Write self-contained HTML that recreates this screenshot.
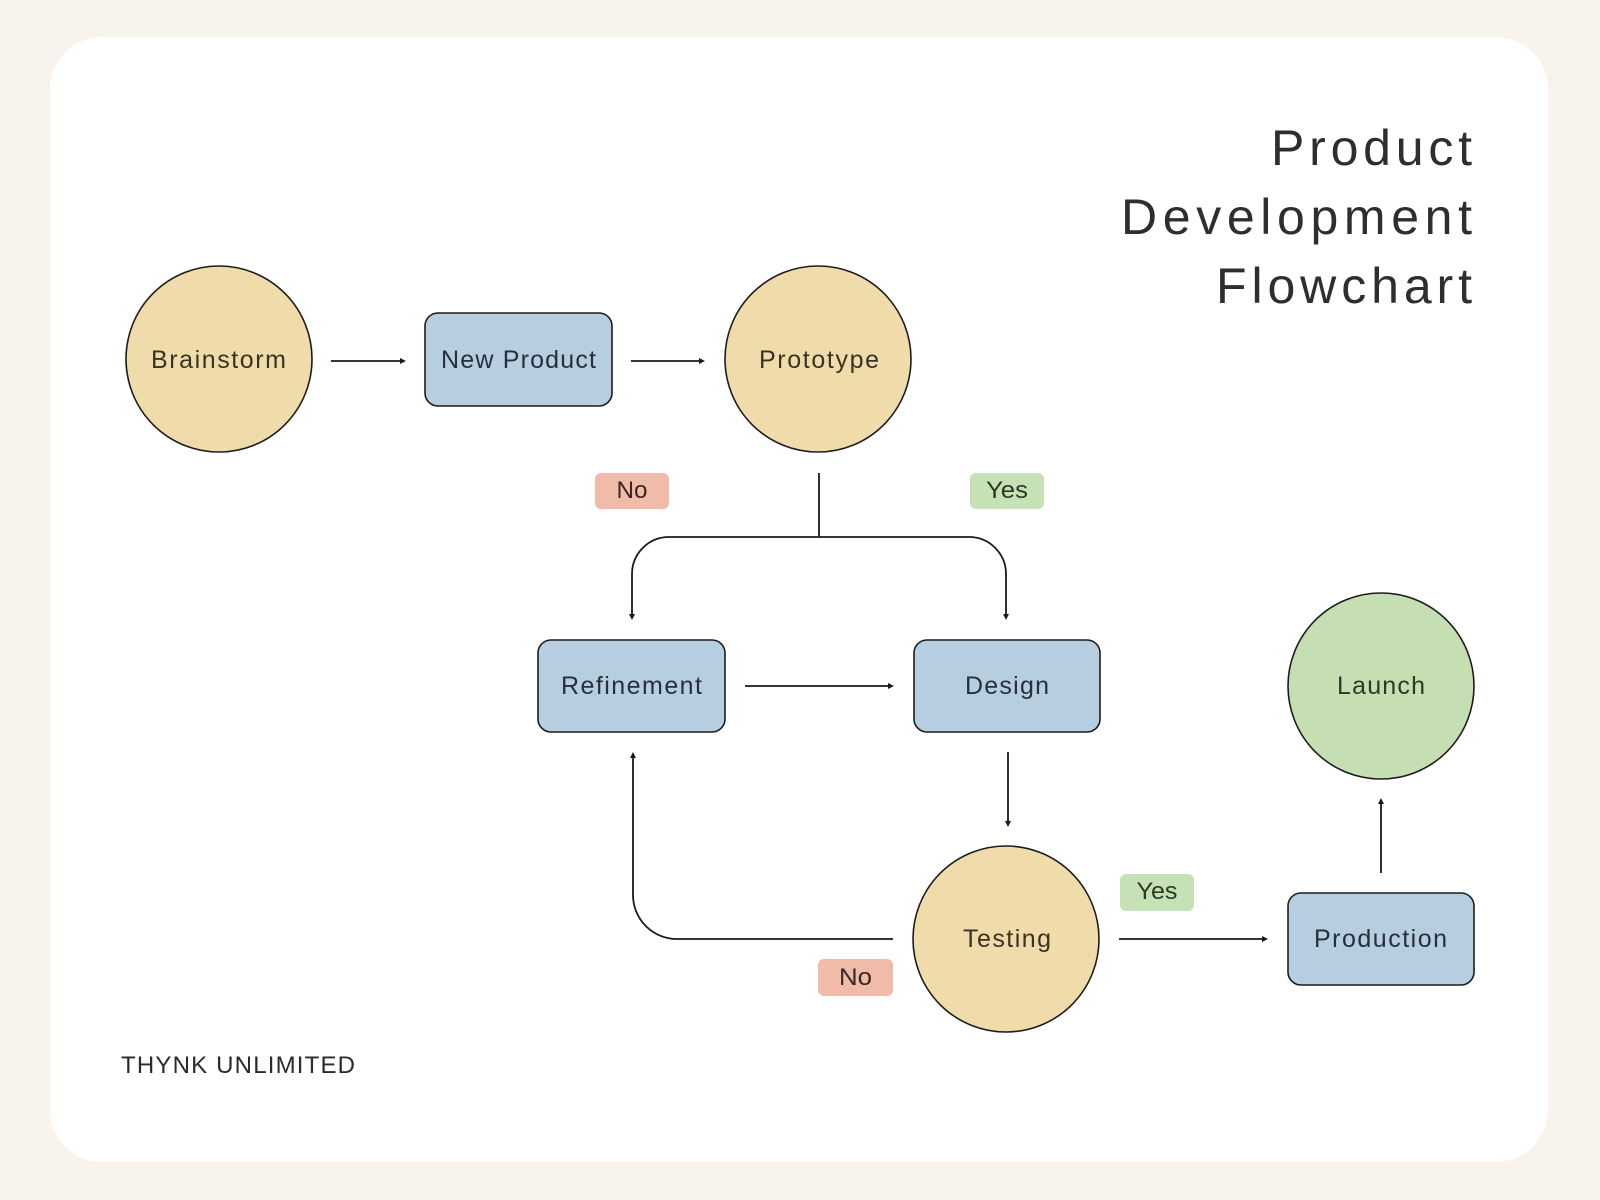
<!DOCTYPE html>
<html>
<head>
<meta charset="utf-8">
<style>
  html, body { margin: 0; padding: 0; background: #f9f3ed; }
  body { width: 1600px; height: 1200px; overflow: hidden; }
  svg { display: block; }
  text { font-family: "Liberation Sans", sans-serif; }
</style>
</head>
<body>
<svg width="1600" height="1200" viewBox="0 0 1600 1200" xmlns="http://www.w3.org/2000/svg">
  <rect x="0" y="0" width="1600" height="1200" fill="#f9f3ed"/>
  <rect x="50" y="37" width="1498" height="1125" rx="52" ry="52" fill="#ffffff"/>

  <!-- Title -->
  <g fill="#2e2e2e" font-size="50" text-anchor="end">
    <text x="1472" y="165" textLength="201" lengthAdjust="spacing">Product</text>
    <text x="1472" y="234" textLength="351" lengthAdjust="spacing">Development</text>
    <text x="1472" y="303" textLength="256" lengthAdjust="spacing">Flowchart</text>
  </g>

  <!-- Connectors -->
  <g stroke="#1a1a1a" stroke-width="1.8" fill="none">
    <line x1="331" y1="361" x2="402" y2="361"/>
    <line x1="631" y1="361" x2="701" y2="361"/>
    <path d="M819 473 V537"/>
    <path d="M632 616 V574 A37 37 0 0 1 669 537 H969 A37 37 0 0 1 1006 574 V616"/>
    <line x1="745" y1="686" x2="890" y2="686"/>
    <line x1="1008" y1="752" x2="1008" y2="823"/>
    <path d="M893 939 H677 A44 44 0 0 1 633 895 V756"/>
    <line x1="1119" y1="939" x2="1264" y2="939"/>
    <line x1="1381" y1="873" x2="1381" y2="802"/>
  </g>
  <g fill="#1a1a1a">
    <polygon points="406,361 400,358 400,364"/>
    <polygon points="705,361 699,358 699,364"/>
    <polygon points="632,620 629,614 635,614"/>
    <polygon points="1006,620 1003,614 1009,614"/>
    <polygon points="894,686 888,683 888,689"/>
    <polygon points="1008,827 1005,821 1011,821"/>
    <polygon points="633,752 630,758 636,758"/>
    <polygon points="1268,939 1262,936 1262,942"/>
    <polygon points="1381,798 1378,804 1384,804"/>
  </g>

  <!-- Nodes -->
  <g stroke="#1c1c1c" stroke-width="1.6">
    <circle cx="219" cy="359" r="93" fill="#f0dcab"/>
    <rect x="425" y="313" width="187" height="93" rx="13" fill="#b7cde0"/>
    <circle cx="818" cy="359" r="93" fill="#f0dcab"/>
    <rect x="538" y="640" width="187" height="92" rx="13" fill="#b7cde0"/>
    <rect x="914" y="640" width="186" height="92" rx="13" fill="#b7cde0"/>
    <circle cx="1006" cy="939" r="93" fill="#f0dcab"/>
    <rect x="1288" y="893" width="186" height="92" rx="13" fill="#b7cde0"/>
    <circle cx="1381" cy="686" r="93" fill="#c5dfb3"/>
  </g>

  <!-- Decision labels -->
  <rect x="595" y="473" width="74" height="36" rx="6" fill="#f0bba9"/>
  <rect x="970" y="473" width="74" height="36" rx="6" fill="#c6e1b5"/>
  <rect x="818" y="959" width="75" height="37" rx="6" fill="#f0bba9"/>
  <rect x="1120" y="874" width="74" height="37" rx="6" fill="#c6e1b5"/>

  <g font-size="24" text-anchor="middle">
    <text x="632" y="498" fill="#3a2622" textLength="31" lengthAdjust="spacingAndGlyphs">No</text>
    <text x="1007" y="498" fill="#2a3a24" textLength="42" lengthAdjust="spacingAndGlyphs">Yes</text>
    <text x="855.5" y="985" fill="#3a2622" textLength="33" lengthAdjust="spacingAndGlyphs">No</text>
    <text x="1157" y="899" fill="#2a3a24" textLength="41" lengthAdjust="spacingAndGlyphs">Yes</text>
  </g>

  <!-- Node text -->
  <g font-size="25" text-anchor="middle">
    <text x="218.5" y="368" fill="#3a3222" textLength="135" lengthAdjust="spacing">Brainstorm</text>
    <text x="518.5" y="368" fill="#26303c" textLength="155" lengthAdjust="spacing">New Product</text>
    <text x="819" y="368" fill="#3a3222" textLength="120" lengthAdjust="spacing">Prototype</text>
    <text x="631.5" y="694" fill="#26303c" textLength="141" lengthAdjust="spacing">Refinement</text>
    <text x="1007" y="694" fill="#26303c" textLength="84" lengthAdjust="spacing">Design</text>
    <text x="1007" y="947" fill="#3a3222" textLength="88" lengthAdjust="spacing">Testing</text>
    <text x="1380.5" y="947" fill="#26303c" textLength="133" lengthAdjust="spacing">Production</text>
    <text x="1381" y="694" fill="#2a3a24" textLength="88" lengthAdjust="spacing">Launch</text>
  </g>

  <!-- Footer -->
  <text x="121" y="1073" font-size="24" fill="#2b2b2b" textLength="234" lengthAdjust="spacing">THYNK UNLIMITED</text>
</svg>
</body>
</html>
